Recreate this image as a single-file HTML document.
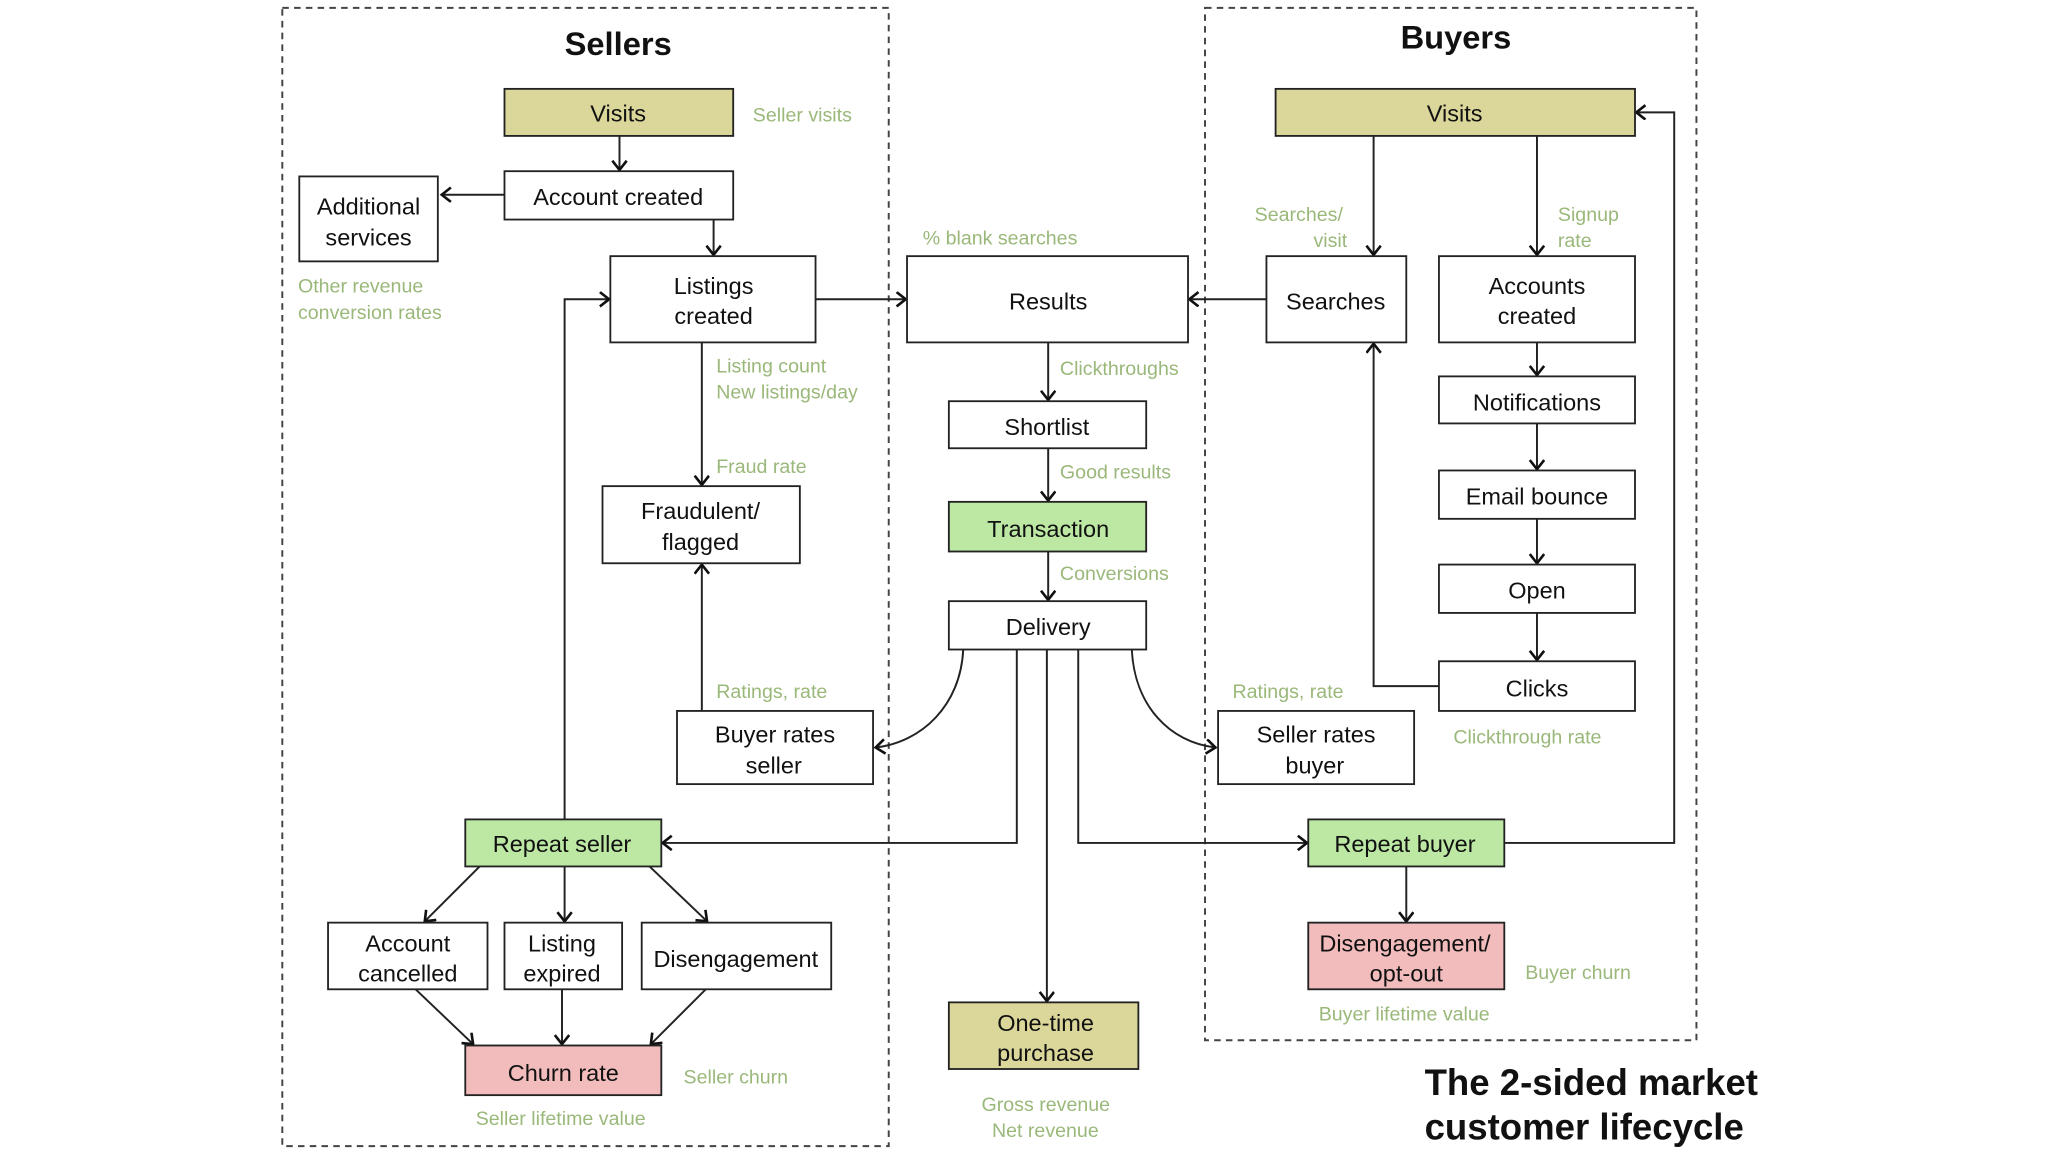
<!DOCTYPE html>
<html><head><meta charset="utf-8"><style>
html,body{margin:0;padding:0;background:#fff;}
svg{display:block;}
.b{fill:#fff;stroke:#222;stroke-width:1.4;}
.k{fill:#dbd79a;stroke:#222;stroke-width:1.4;}
.g{fill:#bce8a4;stroke:#222;stroke-width:1.4;}
.p{fill:#f2bcbc;stroke:#222;stroke-width:1.4;}
.t{font-family:"Liberation Sans",sans-serif;font-size:18px;fill:#111;text-anchor:middle;}
.l{font-family:"Liberation Sans",sans-serif;font-size:15px;fill:#9ab87a;}
.h{font-family:"Liberation Sans",sans-serif;font-size:25px;font-weight:bold;fill:#111;text-anchor:middle;}
.c{fill:none;stroke:#222;stroke-width:1.5;marker-end:url(#a);}
.d{fill:none;stroke:#444;stroke-width:1.5;stroke-dasharray:5,4;}
</style></head><body>
<svg width="2048" height="1152" viewBox="0 0 1567 881.5" preserveAspectRatio="none" xmlns="http://www.w3.org/2000/svg">
<defs><marker id="a" markerWidth="14" markerHeight="14" refX="10" refY="6" orient="auto" markerUnits="userSpaceOnUse"><polyline points="3,0.5 10,6 3,11.5" fill="none" stroke="#111" stroke-width="2"/></marker></defs>
<rect class="d" x="216" y="6" width="464" height="871"/>
<rect class="d" x="922" y="6" width="376" height="790"/>
<text class="h" x="473" y="42">Sellers</text>
<text class="h" x="1114" y="37">Buyers</text>
<text class="h" x="1090" y="838" style="text-anchor:start;font-size:28px">The 2-sided market</text>
<text class="h" x="1090" y="872" style="text-anchor:start;font-size:28px">customer lifecycle</text>

<path class="c" d="M474,104 V130"/>
<path class="c" d="M386,149 H338"/>
<path class="c" d="M546,168 V195"/>
<path class="c" d="M624,229 H693"/>
<path class="c" d="M537,262 V371"/>
<path class="c" d="M537,544 V432"/>
<path class="c" d="M432,627 V229 H466"/>
<path class="c" d="M367,663 L325,705"/>
<path class="c" d="M432,663 V705"/>
<path class="c" d="M497,663 L541,705"/>
<path class="c" d="M318,757 L362,799"/>
<path class="c" d="M430,757 V799"/>
<path class="c" d="M540,757 L498,799"/>
<path class="c" d="M802,262 V306"/>
<path class="c" d="M802,343 V383"/>
<path class="c" d="M802,422 V459"/>
<path class="c" d="M737,497 C735,540 705,568 670,572"/>
<path class="c" d="M866,497 C868,540 895,568 930,572"/>
<path class="c" d="M778,497 V645 H507"/>
<path class="c" d="M825,497 V645 H1000"/>
<path class="c" d="M801,497 V766"/>
<path class="c" d="M969,229 H910"/>
<path class="c" d="M1051,104 V195"/>
<path class="c" d="M1176,104 V195"/>
<path class="c" d="M1176,262 V287"/>
<path class="c" d="M1176,324 V359"/>
<path class="c" d="M1176,397 V431"/>
<path class="c" d="M1176,469 V505"/>
<path class="c" d="M1101,525 H1051 V263"/>
<path class="c" d="M1151,645 H1281 V86 H1252"/>
<path class="c" d="M1076,663 V705"/>

<rect class="k" x="386" y="68" width="175" height="36"/><text class="t" x="473" y="93">Visits</text>
<rect class="b" x="386" y="131" width="175" height="37"/><text class="t" x="473" y="157">Account created</text>
<rect class="b" x="229" y="135" width="106" height="65"/><text class="t" x="282" y="164">Additional</text><text class="t" x="282" y="188">services</text>
<rect class="b" x="467" y="196" width="157" height="66"/><text class="t" x="546" y="225">Listings</text><text class="t" x="546" y="248">created</text>
<rect class="b" x="461" y="372" width="151" height="59"/><text class="t" x="536" y="397">Fraudulent/</text><text class="t" x="536" y="421">flagged</text>
<rect class="b" x="518" y="544" width="150" height="56"/><text class="t" x="593" y="568">Buyer rates</text><text class="t" x="592" y="592">seller</text>
<rect class="g" x="356" y="627" width="150" height="36"/><text class="t" x="430" y="652">Repeat seller</text>
<rect class="b" x="251" y="706" width="122" height="51"/><text class="t" x="312" y="728">Account</text><text class="t" x="312" y="751">cancelled</text>
<rect class="b" x="386" y="706" width="90" height="51"/><text class="t" x="430" y="728">Listing</text><text class="t" x="430" y="751">expired</text>
<rect class="b" x="491" y="706" width="145" height="51"/><text class="t" x="563" y="740">Disengagement</text>
<rect class="p" x="356" y="800" width="150" height="38"/><text class="t" x="431" y="827">Churn rate</text>
<rect class="b" x="694" y="196" width="215" height="66"/><text class="t" x="802" y="237">Results</text>
<rect class="b" x="726" y="307" width="151" height="36"/><text class="t" x="801" y="333">Shortlist</text>
<rect class="g" x="726" y="384" width="151" height="38"/><text class="t" x="802" y="411">Transaction</text>
<rect class="b" x="726" y="460" width="151" height="37"/><text class="t" x="802" y="486">Delivery</text>
<rect class="k" x="726" y="767" width="145" height="51"/><text class="t" x="800" y="789">One-time</text><text class="t" x="800" y="812">purchase</text>
<rect class="k" x="976" y="68" width="275" height="36"/><text class="t" x="1113" y="93">Visits</text>
<rect class="b" x="969" y="196" width="107" height="66"/><text class="t" x="1022" y="237">Searches</text>
<rect class="b" x="1101" y="196" width="150" height="66"/><text class="t" x="1176" y="225">Accounts</text><text class="t" x="1176" y="248">created</text>
<rect class="b" x="1101" y="288" width="150" height="36"/><text class="t" x="1176" y="314">Notifications</text>
<rect class="b" x="1101" y="360" width="150" height="37"/><text class="t" x="1176" y="386">Email bounce</text>
<rect class="b" x="1101" y="432" width="150" height="37"/><text class="t" x="1176" y="458">Open</text>
<rect class="b" x="1101" y="506" width="150" height="38"/><text class="t" x="1176" y="533">Clicks</text>
<rect class="b" x="932" y="544" width="150" height="56"/><text class="t" x="1007" y="568">Seller rates</text><text class="t" x="1006" y="592">buyer</text>
<rect class="g" x="1001" y="627" width="150" height="36"/><text class="t" x="1075" y="652">Repeat buyer</text>
<rect class="p" x="1001" y="706" width="150" height="51"/><text class="t" x="1075" y="728">Disengagement/</text><text class="t" x="1076" y="751">opt-out</text>

<text class="l" x="576" y="93">Seller visits</text>
<text class="l" x="228" y="224">Other revenue</text><text class="l" x="228" y="244">conversion rates</text>
<text class="l" x="548" y="285">Listing count</text><text class="l" x="548" y="305">New listings/day</text>
<text class="l" x="548" y="362">Fraud rate</text>
<text class="l" x="548" y="534">Ratings, rate</text>
<text class="l" x="523" y="829">Seller churn</text>
<text class="l" x="364" y="861">Seller lifetime value</text>
<text class="l" x="706" y="187">% blank searches</text>
<text class="l" x="811" y="287">Clickthroughs</text>
<text class="l" x="811" y="366">Good results</text>
<text class="l" x="811" y="444">Conversions</text>
<text class="l" x="751" y="850">Gross revenue</text><text class="l" x="759" y="870">Net revenue</text>
<text class="l" x="960" y="169">Searches/</text><text class="l" x="1005" y="189">visit</text>
<text class="l" x="1192" y="169">Signup</text><text class="l" x="1192" y="189">rate</text>
<text class="l" x="943" y="534">Ratings, rate</text>
<text class="l" x="1112" y="569">Clickthrough rate</text>
<text class="l" x="1167" y="749">Buyer churn</text>
<text class="l" x="1009" y="781">Buyer lifetime value</text>
</svg>
</body></html>
